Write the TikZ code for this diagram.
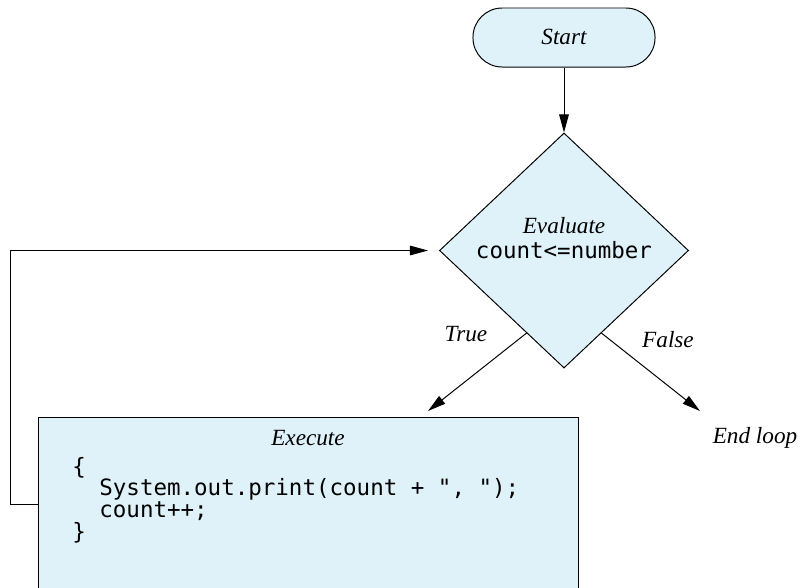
\documentclass[tikz,border=0pt]{standalone}
\usepackage{fontspec}
\setmainfont{Liberation Serif}
\setmonofont{DejaVu Sans Mono}
\usetikzlibrary{calc, arrows.meta, shapes.geometric}
\definecolor{boxblue}{RGB}{223,242,250}
\tikzset{ box/.style = { draw
                       , fill         = boxblue
                       , line width   = 0.7pt
                       , inner sep    = 0pt
                       },
          lbl/.style = { font = \fontsize{16.5}{19}\selectfont\itshape
                       , inner sep = 0pt
                       },
          arr/.style = { line width = 0.7pt
                       , -{Triangle[length=4.5mm, width=2.4mm]}
                       }
        }
\begin{document}
\begin{tikzpicture}[x=0.025cm, y=-0.025cm]
      \useasboundingbox (0,0) rectangle (801,587);
      \node[box, rounded corners=0.73cm, minimum width=4.55cm, minimum height=1.475cm]
            (start) at (564,37.5) {};
      \node[lbl] (starttxt) at (564,37) {Start};
      \node[box, diamond, minimum width=6.225cm, minimum height=5.875cm]
            (eval) at (564,250.5) {};
      \node[lbl, align=center] (evaltxt) at (564,238)
            {Evaluate\\[-1pt]{\upshape\ttfamily\fontsize{16}{17}\selectfont count<=number}};
      \node[box, minimum width=13.475cm, minimum height=4.3cm]
            (exec) at (308.5,504) {};
      \node[lbl] (exectxt) at (308,438) {Execute};
      \node[anchor=west, align=left, inner sep=0pt, font=\ttfamily\fontsize{16}{15.5}\selectfont]
            (code) at (72,500) {\{\\
\ \ System.out.print(count + ", ");\\
\ \ count++;\\
\}};
      \node[lbl] (truetxt) at (466,334) {True};
      \node[lbl] (falsetxt) at (668,340) {False};
      \node[lbl] (endloop) at (755,438) {End loop};
      \coordinate (trueend)  at (428,411);
      \coordinate (falseend) at (700,411);
      % connectors
      \draw[arr] (start) -- (eval.north);
      \draw[arr] ($(eval.west)!0.7!(eval.south)$) -- (trueend);
      \draw[arr] ($(eval.east)!0.7!(eval.south)$) -- (falseend);
      \draw[arr, shorten >=11*0.025cm] (exec.west) -- ++(-28,0) |- (eval.west);
\end{tikzpicture}
\end{document}
